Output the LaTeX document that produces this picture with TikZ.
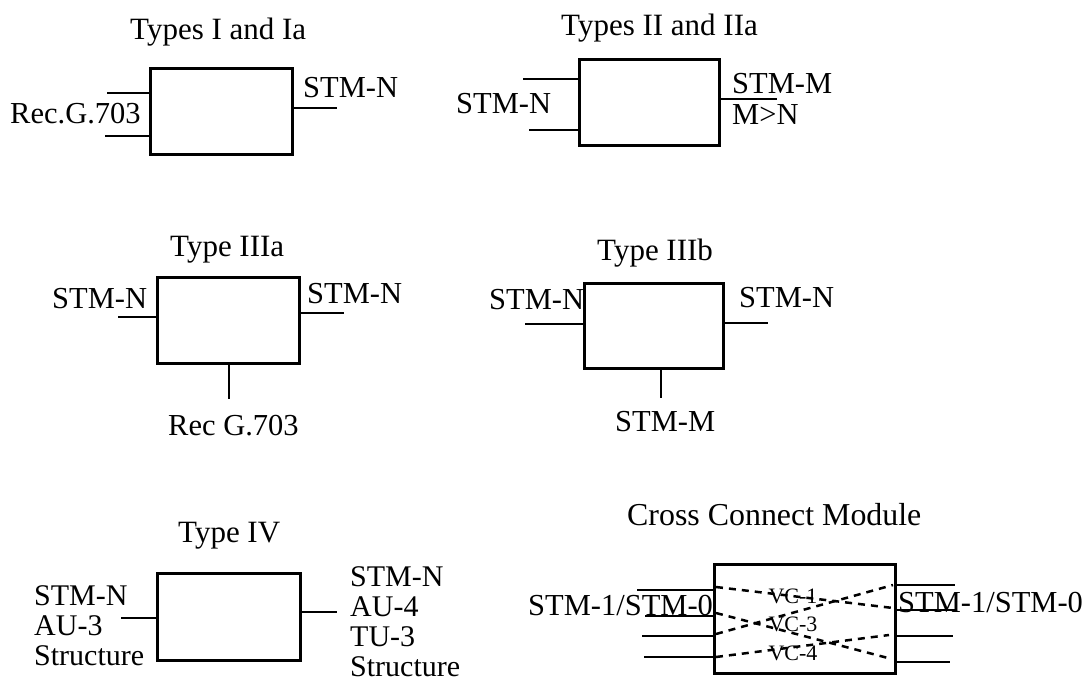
\documentclass[tikz,border=0pt]{standalone}
\usepackage{fontspec}
\setmainfont{Liberation Serif}
\usepackage{tikz}
\tikzstyle{module} = [rectangle, draw=black, line width=3pt, inner sep=0pt]
\tikzstyle{lbl} = [inner sep=0pt, anchor=base west, font=\fontsize{30.5}{30}\selectfont]
\tikzstyle{titlelbl} = [inner sep=0pt, anchor=base west, font=\fontsize{31}{31}\selectfont]
\tikzstyle{stack} = [inner sep=0pt, anchor=north west, align=left, font=\fontsize{30}{30.2}\selectfont]
\tikzstyle{vclbl} = [inner sep=0pt, anchor=base, font=\fontsize{22}{22}\selectfont]
\tikzstyle{wire} = [line width=2.5pt]
\tikzstyle{cross} = [line width=2.5pt, dash pattern=on 7pt off 6pt]

\begin{document}
\begin{tikzpicture}[x=1pt, y=-1pt]
	\useasboundingbox (0,0) rectangle (1087,681);
	% Types I and Ia
	\node[module, minimum width=142pt, minimum height=86pt] (boxa) at (221,111) {};
	\node[titlelbl] (titlea) at (130,39) {Types I and Ia};
	\node[lbl] (recga) at (10,123) {Rec.G.703};
	\node[lbl] (stma) at (303,97) {STM-N};
	\coordinate (ain1) at (107,93);
	\coordinate (ain2) at (105,136);
	\coordinate (aout) at (337,108);
	\draw[wire] (ain1) -- (ain1 -| boxa.west); % oben
	\draw[wire] (ain2) -- (ain2 -| boxa.west); % unten
	\draw[wire] (boxa.east |- aout) -- (aout);
	% Types II and IIa
	\node[module, minimum width=140pt, minimum height=86pt] (boxb) at (649,102) {};
	\node[titlelbl] (titleb) at (561,35) {Types II and IIa};
	\node[lbl] (stmb) at (456,113) {STM-N};
	\node[lbl] (stmmb) at (732,93) {STM-M};
	\node[lbl] (mgtn) at (732,124) {M>N};
	\coordinate (bin1) at (523,79);
	\coordinate (bin2) at (529,130);
	\coordinate (bout) at (777,99);
	\draw[wire] (bin1) -- (bin1 -| boxb.west);
	\draw[wire] (bin2) -- (bin2 -| boxb.west);
	\draw[wire] (boxb.east |- bout) -- (bout);
	% Type IIIa
	\node[module, minimum width=142pt, minimum height=86pt] (boxc) at (228,320) {};
	\node[titlelbl] (titlec) at (170,256) {Type IIIa};
	\node[lbl] (stmcl) at (52,308) {STM-N};
	\node[lbl] (stmcr) at (307,303) {STM-N};
	\node[lbl] (recgc) at (168,435) {Rec G.703};
	\coordinate (cin) at (118,317);
	\coordinate (cout) at (344,313);
	\coordinate (cbot) at (229,399);
	\draw[wire] (cin) -- (cin -| boxc.west);
	\draw[wire] (boxc.east |- cout) -- (cout);
	\draw[wire] (boxc.south -| cbot) -- (cbot);
	% Type IIIb
	\node[module, minimum width=139pt, minimum height=85pt] (boxd) at (653.5,325.5) {};
	\node[titlelbl] (titled) at (597,260) {Type IIIb};
	\node[lbl] (stmdl) at (489,309) {STM-N};
	\node[lbl] (stmdr) at (739,307) {STM-N};
	\node[lbl] (stmmd) at (615,431) {STM-M};
	\coordinate (din) at (525,324);
	\coordinate (dout) at (768,323);
	\coordinate (dbot) at (661,398);
	\draw[wire] (din) -- (din -| boxd.west);
	\draw[wire] (boxd.east |- dout) -- (dout);
	\draw[wire] (boxd.south -| dbot) -- (dbot);
	% Type IV
	\node[module, minimum width=143pt, minimum height=87pt] (boxe) at (228.5,616.5) {};
	\node[titlelbl] (titlee) at (178,542) {Type IV};
	\node[stack] (stacke) at (34,585) {STM-N\\AU-3\\Structure};
	\node[stack] (stackf) at (350,566) {STM-N\\AU-4\\TU-3\\Structure};
	\coordinate (ein) at (121,618);
	\coordinate (eout) at (337,612);
	\draw[wire] (ein) -- (ein -| boxe.west);
	\draw[wire] (boxe.east |- eout) -- (eout);
	% Cross Connect Module
	\node[module, minimum width=181pt, minimum height=109pt] (boxf) at (804.5,618.5) {};
	\node[titlelbl, font=\fontsize{31.9}{32}\selectfont] (titlef) at (627,525) {Cross Connect Module};
	\node[lbl] (stmfl) at (528,615) {STM-1/STM-0};
	\node[lbl] (stmfr) at (898,612) {STM-1/STM-0};
	\node[vclbl] (vca) at (793,603) {VC-1};
	\node[vclbl] (vcb) at (793,631) {VC-3};
	\node[vclbl] (vcc) at (793,660) {VC-4};
	\coordinate (fin1) at (637,590);
	\coordinate (fin2) at (645,616);
	\coordinate (fin3) at (642,636);
	\coordinate (fin4) at (644,657);
	\coordinate (fout1) at (955,585);
	\coordinate (fout2) at (955,610);
	\coordinate (fout3) at (953,636);
	\coordinate (fout4) at (950,662);
	\draw[wire] (fin1) -- (fin1 -| boxf.west);
	\draw[wire] (fin2) -- (fin2 -| boxf.west);
	\draw[wire] (fin3) -- (fin3 -| boxf.west);
	\draw[wire] (fin4) -- (fin4 -| boxf.west);
	\draw[wire] (boxf.east |- fout1) -- (fout1);
	\draw[wire] (boxf.east |- fout2) -- (fout2);
	\draw[wire] (boxf.east |- fout3) -- (fout3);
	\draw[wire] (boxf.east |- fout4) -- (fout4);
	% Verbindungen im Modul
	\coordinate (xa) at (716,587);
	\coordinate (xb) at (893,608);
	\coordinate (xc) at (716,613);
	\coordinate (xd) at (888,658);
	\coordinate (xe) at (716,634);
	\coordinate (xf) at (893,585);
	\coordinate (xg) at (716,657);
	\coordinate (xh) at (889,635);
	\draw[cross] (xa) -- (xb);
	\draw[cross] (xc) -- (xd);
	\draw[cross] (xe) -- (xf);
	\draw[cross] (xg) -- (xh);
\end{tikzpicture}
\end{document}
